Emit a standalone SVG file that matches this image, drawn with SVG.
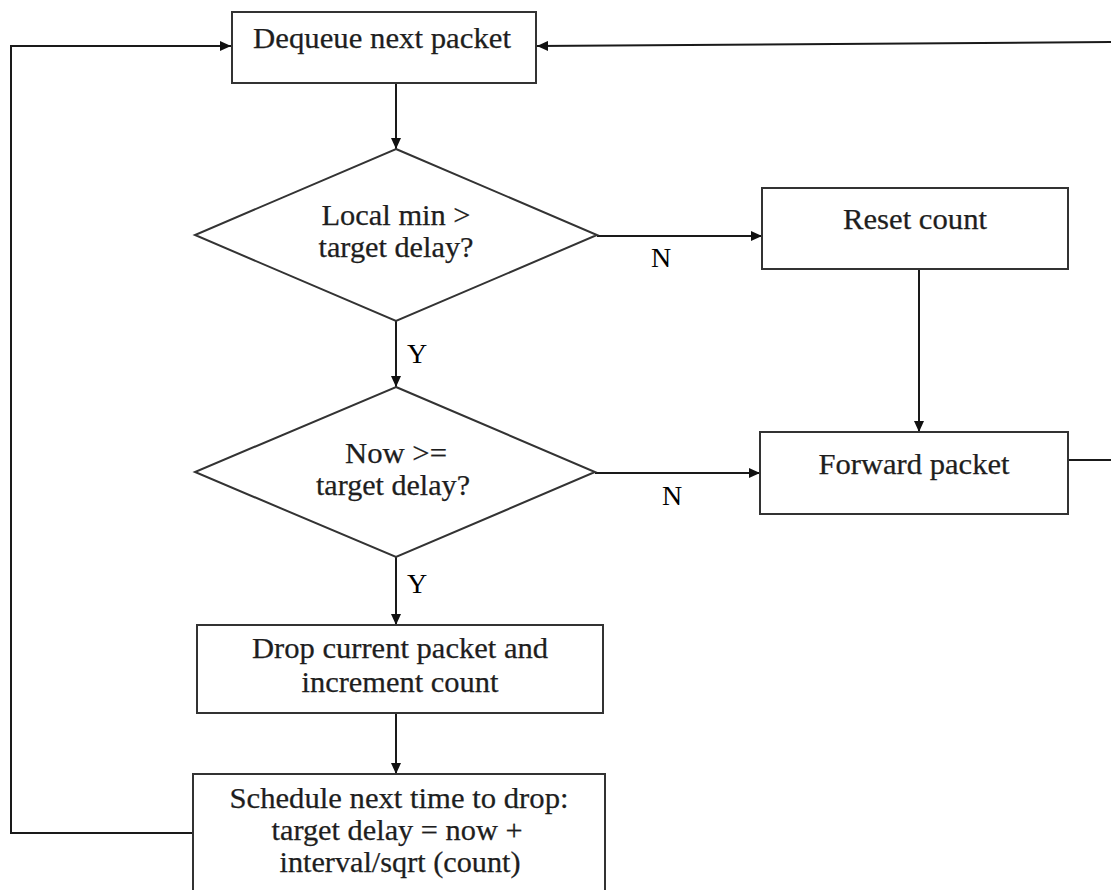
<svg xmlns="http://www.w3.org/2000/svg" width="1111" height="890" viewBox="0 0 1111 890">
  <style>
    .box { fill: #ffffff; stroke: #333333; stroke-width: 2; }
    .lbl { font-family: "Liberation Serif", "Times New Roman", serif; font-size: 29px; fill: #1e1e1e; stroke: #1e1e1e; stroke-width: 0.25; text-anchor: middle; }
    .yn { font-family: "Liberation Serif", "Times New Roman", serif; font-size: 28px; fill: #000000; }
    .wire { fill: none; stroke: #1a1a1a; stroke-width: 2; }
    .flow { fill: none; stroke: #1a1a1a; stroke-width: 2; marker-end: url(#arrow); }
  </style>
  <defs>
    <marker id="arrow" markerUnits="userSpaceOnUse" markerWidth="12" markerHeight="10" refX="11" refY="5" orient="auto">
      <path d="M0,0 L11,5 L0,10 z" fill="#111111"/>
    </marker>
  </defs>
  <rect width="1111" height="890" fill="#ffffff"/>

  <!-- flow lines -->
  <g id="connectors">
    <polyline class="flow" points="193,833 11,833 11,46 231,46"/>
    <line class="flow" x1="1111" y1="42" x2="537" y2="46"/>
    <line class="wire" x1="1068" y1="460" x2="1111" y2="460"/>
    <line class="flow" x1="396" y1="83" x2="396" y2="149"/>
    <line class="flow" x1="597" y1="236" x2="762" y2="236"/>
    <line class="flow" x1="396" y1="321" x2="396" y2="387"/>
    <line class="flow" x1="919" y1="269" x2="919" y2="432"/>
    <line class="flow" x1="595" y1="473" x2="760" y2="473"/>
    <line class="flow" x1="396" y1="557" x2="396" y2="625"/>
    <line class="flow" x1="396" y1="713" x2="396" y2="774"/>
    <text class="yn" x="651" y="267">N</text>
    <text class="yn" x="407" y="363">Y</text>
    <text class="yn" x="662" y="505">N</text>
    <text class="yn" x="407" y="593">Y</text>
  </g>

  <g id="dequeue">
    <rect class="box" x="232" y="12" width="304" height="71"/>
    <text class="lbl" x="382" y="48" textLength="258" lengthAdjust="spacingAndGlyphs">Dequeue next packet</text>
  </g>

  <g id="check-local-min">
    <polygon class="box" points="396,149 597,235 396,321 195,235"/>
    <text class="lbl" x="396" y="225" textLength="149" lengthAdjust="spacingAndGlyphs">Local min &gt;</text>
    <text class="lbl" x="396" y="257" textLength="155" lengthAdjust="spacingAndGlyphs">target delay?</text>
  </g>

  <g id="reset-count">
    <rect class="box" x="762" y="188" width="306" height="81"/>
    <text class="lbl" x="915" y="229" textLength="144" lengthAdjust="spacingAndGlyphs">Reset count</text>
  </g>

  <g id="check-now">
    <polygon class="box" points="396,387 595,472 396,557 195,472"/>
    <text class="lbl" x="396" y="463" textLength="102" lengthAdjust="spacingAndGlyphs">Now &gt;=</text>
    <text class="lbl" x="393" y="495" textLength="154" lengthAdjust="spacingAndGlyphs">target delay?</text>
  </g>

  <g id="forward-packet">
    <rect class="box" x="760" y="432" width="308" height="82"/>
    <text class="lbl" x="914" y="474" textLength="191" lengthAdjust="spacingAndGlyphs">Forward packet</text>
  </g>

  <g id="drop-packet">
    <rect class="box" x="197" y="625" width="406" height="88"/>
    <text class="lbl" x="400" y="658" textLength="296" lengthAdjust="spacingAndGlyphs">Drop current packet and</text>
    <text class="lbl" x="400" y="692" textLength="197" lengthAdjust="spacingAndGlyphs">increment count</text>
  </g>

  <g id="schedule-drop">
    <path class="box" d="M193,895 V774 H605 V895"/>
    <text class="lbl" x="399" y="808" textLength="339" lengthAdjust="spacingAndGlyphs">Schedule next time to drop:</text>
    <text class="lbl" x="397" y="840" textLength="251" lengthAdjust="spacingAndGlyphs">target delay = now +</text>
    <text class="lbl" x="400" y="872" textLength="241" lengthAdjust="spacingAndGlyphs">interval/sqrt (count)</text>
  </g>
</svg>
